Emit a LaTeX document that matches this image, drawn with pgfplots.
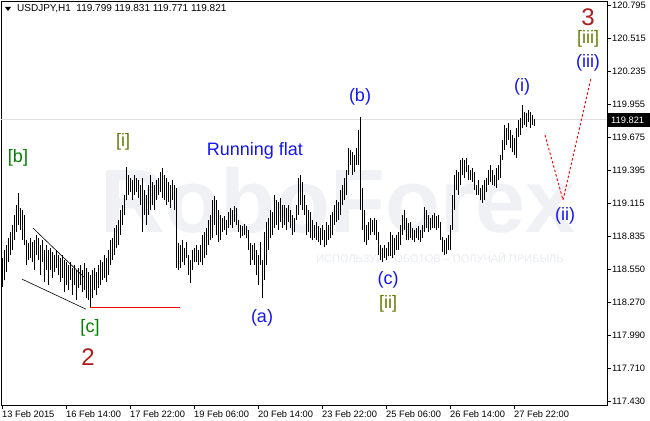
\documentclass[border=0pt]{standalone}
\usepackage{pgfplots}
\pgfplotsset{compat=1.18}
\usepackage{pgfplotstable}
\usepackage{fontspec}
\setmainfont{Liberation Sans}
\definecolor{wavered}{RGB}{170,30,30}
\definecolor{wavegreen}{RGB}{0,128,0}
\definecolor{waveolive}{RGB}{96,128,0}
\definecolor{waveblue}{RGB}{20,20,245}
\definecolor{wm}{RGB}{239,241,245}
\definecolor{wmtext}{RGB}{232,235,240}

\pgfplotstableread{
i h l
0 118.647 118.401
1 118.715 118.460
2 118.758 118.528
3 118.817 118.613
4 118.868 118.673
5 118.927 118.715
6 119.012 118.800
7 119.097 118.868
8 119.199 118.927
9 119.072 118.885
10 119.055 118.800
11 119.012 118.758
12 118.800 118.588
13 118.775 118.630
14 118.817 118.647
15 118.783 118.613
16 118.800 118.545
17 118.843 118.673
18 118.817 118.630
19 118.758 118.503
20 118.800 118.613
21 118.715 118.443
22 118.758 118.545
23 118.715 118.418
24 118.732 118.545
25 118.698 118.477
26 118.673 118.528
27 118.715 118.562
28 118.673 118.503
29 118.647 118.443
30 118.673 118.477
31 118.630 118.358
32 118.613 118.418
33 118.588 118.375
34 118.613 118.460
35 118.562 118.333
36 118.588 118.418
37 118.545 118.291
38 118.562 118.392
39 118.588 118.418
40 118.545 118.358
41 118.605 118.375
42 118.562 118.307
43 118.528 118.291
44 118.503 118.231
45 118.545 118.307
46 118.562 118.375
47 118.528 118.333
48 118.588 118.392
49 118.630 118.418
50 118.613 118.460
51 118.673 118.477
52 118.647 118.443
53 118.715 118.503
54 118.800 118.588
55 118.817 118.630
56 118.902 118.673
57 118.927 118.732
58 118.970 118.758
59 119.055 118.843
60 119.097 118.927
61 119.182 119.012
62 119.420 119.140
63 119.352 119.182
64 119.326 119.207
65 119.309 119.140
66 119.352 119.182
67 119.326 119.207
68 119.309 119.156
69 119.267 119.097
70 119.326 118.868
71 119.224 119.012
72 119.182 118.927
73 119.267 119.012
74 119.352 119.055
75 119.292 119.097
76 119.267 119.055
77 119.309 119.140
78 119.326 119.182
79 119.377 119.207
80 119.411 119.156
81 119.352 119.140
82 119.326 119.097
83 119.292 119.123
84 119.267 119.072
85 119.309 119.140
86 119.267 119.055
87 119.241 118.562
88 118.775 118.545
89 118.758 118.562
90 118.800 118.613
91 118.732 118.588
92 118.783 118.647
93 118.673 118.503
94 118.630 118.435
95 118.715 118.545
96 118.732 118.613
97 118.758 118.613
98 118.715 118.588
99 118.758 118.613
100 118.843 118.588
101 118.868 118.647
102 118.902 118.673
103 118.970 118.758
104 119.012 118.800
105 119.140 118.817
106 119.173 118.927
107 119.140 118.843
108 119.055 118.783
109 119.012 118.800
110 118.987 118.868
111 119.004 118.885
112 118.970 118.843
113 119.038 118.902
114 119.072 118.927
115 119.055 118.902
116 119.089 118.953
117 119.072 118.927
118 118.970 118.868
119 118.927 118.817
120 118.919 118.834
121 118.936 118.843
122 118.919 118.817
123 118.885 118.715
124 118.775 118.588
125 118.758 118.630
126 118.775 118.588
127 118.715 118.503
128 118.673 118.418
129 118.783 118.588
130 118.630 118.307
131 118.868 118.460
132 118.953 118.588
133 118.987 118.715
134 119.055 118.817
135 119.038 118.843
136 119.182 118.902
137 119.140 118.927
138 119.123 118.885
139 119.156 118.953
140 119.097 118.902
141 119.097 118.927
142 119.072 118.885
143 119.097 118.953
144 119.055 118.902
145 119.012 118.843
146 118.987 118.868
147 119.097 118.970
148 119.326 119.012
149 119.352 119.097
150 119.292 119.055
151 119.182 119.012
152 119.097 118.843
153 119.055 118.868
154 119.038 118.817
155 118.970 118.800
156 118.927 118.817
157 118.953 118.800
158 118.919 118.783
159 118.902 118.758
160 118.927 118.800
161 118.885 118.741
162 118.953 118.758
163 118.927 118.800
164 119.012 118.817
165 119.038 118.843
166 119.097 118.927
167 119.140 118.953
168 119.123 118.970
169 119.224 119.012
170 119.267 119.097
171 119.326 119.140
172 119.394 119.182
173 119.581 119.352
174 119.564 119.437
175 119.547 119.352
176 119.522 119.377
177 119.581 119.437
178 119.734 119.437
179 119.844 119.055
180 119.241 118.885
181 119.055 118.783
182 118.927 118.758
183 118.953 118.800
184 118.987 118.843
185 118.970 118.868
186 118.987 118.843
187 118.970 118.800
188 118.868 118.673
189 118.758 118.630
190 118.732 118.613
191 118.758 118.647
192 118.732 118.630
193 118.783 118.664
194 118.868 118.664
195 118.843 118.647
196 118.817 118.673
197 118.843 118.715
198 118.868 118.715
199 118.927 118.758
200 119.012 118.843
201 119.055 118.885
202 118.987 118.800
203 118.944 118.800
204 118.953 118.817
205 118.902 118.800
206 118.885 118.783
207 118.902 118.817
208 118.919 118.800
209 118.885 118.783
210 118.927 118.817
211 119.080 118.868
212 119.055 118.902
213 119.012 118.868
214 118.987 118.885
215 119.012 118.902
216 119.029 118.902
217 119.004 118.885
218 119.012 118.902
219 118.953 118.800
220 118.826 118.698
221 118.800 118.673
222 118.817 118.681
223 118.843 118.715
224 118.927 118.715
225 119.182 118.885
226 119.352 119.055
227 119.394 119.224
228 119.377 119.182
229 119.479 119.267
230 119.496 119.352
231 119.479 119.326
232 119.496 119.377
233 119.437 119.309
234 119.394 119.309
235 119.411 119.292
236 119.377 119.224
237 119.267 119.182
238 119.309 119.182
239 119.241 119.140
240 119.267 119.114
241 119.309 119.140
242 119.326 119.207
243 119.394 119.267
244 119.437 119.292
245 119.394 119.267
246 119.352 119.258
247 119.411 119.241
248 119.437 119.309
249 119.522 119.326
250 119.649 119.479
251 119.776 119.564
252 119.751 119.607
253 119.793 119.649
254 119.734 119.581
255 119.692 119.547
256 119.666 119.522
257 119.751 119.496
258 119.819 119.675
259 119.836 119.692
260 119.946 119.751
261 119.887 119.776
262 119.878 119.759
263 119.904 119.802
264 119.887 119.751
265 119.861 119.776
266 119.831 119.771
}\bars

\pgfplotstableread{
i p
271.5 119.692
280.5 119.140
294.5 120.175
}\forecast

\begin{document}
\begin{tikzpicture}
\useasboundingbox (0pt,0pt) rectangle (650pt,420pt);
\begin{axis}[
  at={(1pt,15pt)}, anchor=south west,
  scale only axis, width=606pt, height=404pt,
  xmin=-0.5, xmax=302.5, ymin=117.401, ymax=120.829,
  axis line style={black, line width=0.8pt},
  tick align=outside, major tick length=4pt,
  tick style={black, line width=0.8pt},
  xtick pos=bottom, ytick pos=right, yticklabel pos=right,
  xtick={0,32,64,96,128,160,192,224,256},
  xticklabels={13 Feb 2015,16 Feb 14:00,17 Feb 22:00,19 Feb 06:00,20 Feb 14:00,23 Feb 22:00,25 Feb 06:00,26 Feb 14:00,27 Feb 22:00},
  ytick={117.43,117.71,117.99,118.27,118.55,118.835,119.115,119.395,119.675,119.955,120.235,120.515,120.795},
  scaled y ticks=false,
  /pgf/number format/assume math mode=true,
  yticklabel style={/pgf/number format/fixed, /pgf/number format/precision=3, /pgf/number format/fixed zerofill, anchor=west, inner sep=1pt, font=\fontsize{9.3pt}{11pt}\selectfont},
  xticklabel style={anchor=north west, inner sep=1pt, xshift=-1pt, yshift=-1pt, font=\fontsize{9.3pt}{11pt}\selectfont},
]
% watermark
\node[text=wm, inner sep=0pt, font=\fontsize{90pt}{90pt}\selectfont\bfseries] at (axis cs:168,119.14) {RoboForex};
\node[text=wmtext, inner sep=0pt, font=\fontsize{11pt}{12pt}\selectfont] at (axis cs:219,118.655) {ИСПОЛЬЗУЙ РОБОТОВ -- ПОЛУЧАЙ ПРИБЫЛЬ};
% current price line
\draw[black!12, line width=0.8pt] (axis cs:-0.5,119.821) -- (axis cs:302.5,119.821);
% bars
\addplot[black, line width=0.9pt, quiver={u=0, v=\thisrow{h}-\thisrow{l}}] table[x=i, y=l] {\bars};
% wedge lines
\draw[black, line width=0.6pt] (axis cs:15.5,118.902) -- (axis cs:41.5,118.477);
\draw[black, line width=0.6pt] (axis cs:10,118.469) -- (axis cs:42,118.214);
\draw[red, line width=0.8pt] (axis cs:44,118.231) -- (axis cs:89,118.231);
% forecast
\addplot[red, line width=0.9pt, dash pattern=on 2.5pt off 2pt] table[x=i, y=p] {\forecast};
% labels
\node[text=wavegreen, font=\fontsize{18pt}{18pt}\selectfont] at (axis cs:8,119.496) {[b]};
\node[text=waveolive, font=\fontsize{18pt}{18pt}\selectfont] at (axis cs:60.5,119.632) {[i]};
\node[text=waveblue, inner sep=1pt, font=\fontsize{18pt}{18pt}\selectfont] at (axis cs:126.5,119.56) {Running flat};
\node[text=waveblue, font=\fontsize{18pt}{18pt}\selectfont] at (axis cs:130,118.139) {(a)};
\node[text=waveblue, font=\fontsize{18pt}{18pt}\selectfont] at (axis cs:179,120.014) {(b)};
\node[text=waveblue, font=\fontsize{18pt}{18pt}\selectfont] at (axis cs:193,118.46) {(c)};
\node[text=waveolive, font=\fontsize{18pt}{18pt}\selectfont] at (axis cs:193,118.256) {[ii]};
\node[text=waveblue, font=\fontsize{18pt}{18pt}\selectfont] at (axis cs:260,120.099) {(i)};
\node[text=waveblue, font=\fontsize{18pt}{18pt}\selectfont] at (axis cs:281.5,119.01) {(ii)};
\node[text=waveblue, font=\fontsize{18pt}{18pt}\selectfont] at (axis cs:293,120.30) {(iii)};
\node[text=waveolive, font=\fontsize{18pt}{18pt}\selectfont] at (axis cs:293,120.51) {[iii]};
\node[text=wavered, font=\fontsize{24pt}{24pt}\selectfont] at (axis cs:293,120.69) {3};
\node[text=wavegreen, font=\fontsize{18pt}{18pt}\selectfont] at (axis cs:44,118.054) {[c]};
\node[text=wavered, font=\fontsize{24pt}{24pt}\selectfont] at (axis cs:43,117.81) {2};
\end{axis}
% header
\fill[black] (5pt,413pt) -- (11pt,413pt) -- (8pt,409pt) -- cycle;
\node[anchor=west, inner sep=0pt, font=\fontsize{10pt}{12pt}\selectfont] at (17pt,411pt) {USDJPY,H1\ \ 119.799 119.831 119.771 119.821};
% price tag
\fill[black] (608pt,293pt) rectangle (650pt,307pt);
\node[anchor=west, inner sep=0pt, text=white, font=\fontsize{9.3pt}{11pt}\selectfont] at (611pt,300pt) {119.821};
\end{tikzpicture}
\end{document}
